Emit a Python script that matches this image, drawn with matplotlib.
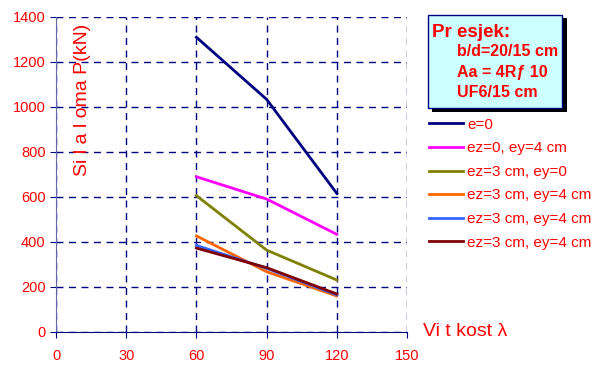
import matplotlib.pyplot as plt
from matplotlib.patches import Rectangle

plt.rcParams['font.family'] = ['Liberation Sans', 'DejaVu Sans']

# Data
lam = [60, 90, 120]
e0 = [1310, 1034, 616]
ez0_ey4 = [690, 591, 434]
ez3_ey0 = [606, 364, 231]
ez3_ey4_a = [427, 268, 160]
ez3_ey4_b = [385, 283, 165]
ez3_ey4_c = [373, 286, 169]

labels = ['e=0', 'ez=0, ey=4 cm', 'ez=3 cm, ey=0',
          'ez=3 cm, ey=4 cm', 'ez=3 cm, ey=4 cm', 'ez=3 cm, ey=4 cm']
colors = ['#000080', '#FF00FF', '#808000', '#FF6600', '#3366FF', '#800000']
series = [e0, ez0_ey4, ez3_ey0, ez3_ey4_a, ez3_ey4_b, ez3_ey4_c]

red = '#FF0000'
navy = '#000080'

fig = plt.figure(figsize=(5.92, 3.66), dpi=100)
ax = fig.add_axes([0.0946, 0.0929, 0.5929, 0.8607])

for y, c, lab in zip(series, colors, labels):
    ax.plot(lam, y, color=c, lw=2, label=lab)

ax.set_xlim(0, 150)
ax.set_ylim(0, 1400)
ax.set_xticks([0, 30, 60, 90, 120, 150])
ax.set_yticks(range(0, 1401, 200))
ax.grid(True, color=navy, linestyle=(0, (5, 4)), lw=1)
ax.set_axisbelow(True)
for s in ['top', 'right']:
    ax.spines[s].set_visible(False)
ax.spines['left'].set_color('#6666AA')
ax.spines['bottom'].set_color(navy)
ax.tick_params(colors=navy, labelcolor=red, labelsize=10.5, length=4)
ax.tick_params(axis='x', pad=8)

fig.text(0.14, 0.727, 'Si l a l oma P(kN)', rotation=90, color=red,
         fontsize=14, ha='center', va='center')
fig.text(0.715, 0.095, 'Vi t kost λ', color=red, fontsize=14,
         ha='left', va='center')

# Info box with shadow
fig.patches.append(Rectangle((0.730, 0.695), 0.227, 0.255, transform=fig.transFigure,
                             facecolor='black', edgecolor='none', zorder=2))
fig.patches.append(Rectangle((0.723, 0.705), 0.227, 0.255, transform=fig.transFigure,
                             facecolor='#CCFFFF', edgecolor=navy, lw=1, zorder=3))
fig.text(0.730, 0.912, 'Pr esjek:', color=red, fontsize=13.5, fontweight='bold',
         va='center', zorder=4)
fig.text(0.772, 0.858, 'b/d=20/15 cm', color=red, fontsize=11.5, fontweight='bold',
         va='center', zorder=4)
fig.text(0.772, 0.803, 'Aa = 4R\u0192 10', color=red, fontsize=11.5, fontweight='bold',
         va='center', zorder=4)
fig.text(0.772, 0.748, 'UF6/15 cm', color=red, fontsize=11.5, fontweight='bold',
         va='center', zorder=4)

leg = ax.legend(loc='upper left', bbox_to_anchor=(1.045, 0.70), frameon=False,
                fontsize=11, handlelength=2.2, handletextpad=0.3,
                labelspacing=0.63, borderaxespad=0)
for t in leg.get_texts():
    t.set_color(red)

fig.savefig('out.png', dpi=100)
